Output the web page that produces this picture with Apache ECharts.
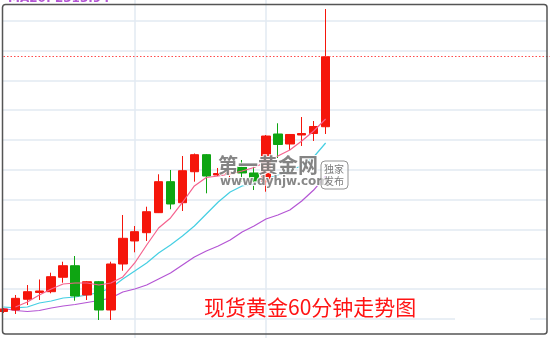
<!DOCTYPE html>
<html>
<head>
<meta charset="utf-8">
<script src="https://cdn.jsdelivr.net/npm/echarts@6/dist/echarts.min.js"></script>
<style>html,body{margin:0;padding:0;background:#fff;}#c{width:550px;height:338px;}</style>
</head>
<body>
<div id="c"></div>
<script>
// hourly bars (60-minute candles)
var categories = ['01:00','02:00','03:00','04:00','05:00','06:00','07:00','08:00','09:00','10:00',
  '11:00','12:00','13:00','14:00','15:00','16:00','17:00','18:00','19:00','20:00',
  '21:00','22:00','23:00','00:00','01:00','02:00','03:00','04:00'];
var opens  = [2291.21,2291.46,2293.26,2294.40,2294.53,2296.95,2298.89,2293.98,2296.21,2291.46,
  2299.18,2303.04,2304.43,2307.79,2312.99,2309.46,2314.66,2317.52,2314.11,2314.28,
  2315.45,2314.45,2312.99,2320.99,2319.31,2320.82,2321.07,2322.21];
var closes = [2291.63,2293.42,2294.53,2294.65,2297.05,2298.89,2293.81,2296.21,2291.46,2299.18,
  2303.49,2304.60,2307.95,2312.99,2309.25,2314.83,2317.52,2313.94,2314.36,2314.53,
  2314.45,2313.10,2320.65,2319.23,2320.91,2321.07,2322.25,2333.96];
var lows   = [2290.96,2290.79,2292.30,2293.14,2294.26,2296.04,2293.02,2293.14,2289.78,2289.78,
  2298.05,2301.14,2303.04,2307.73,2308.36,2308.07,2312.99,2311.04,2313.94,2313.61,
  2312.94,2311.59,2311.31,2316.96,2318.31,2318.98,2319.82,2320.99];
var highs  = [2291.80,2293.98,2295.65,2296.58,2297.72,2299.56,2300.52,2296.33,2296.33,2299.56,
  2307.40,2305.55,2308.79,2314.23,2314.95,2317.30,2317.72,2317.63,2315.29,2315.12,
  2316.63,2315.62,2320.82,2322.79,2320.99,2323.84,2323.17,2341.96];
var ma5  = ['-',2291.96,2292.80,2293.98,2294.98,2295.82,2295.99,2295.99,2295.65,2295.99,
  2297.00,2299.35,2302.37,2305.22,2306.90,2309.50,2312.27,2313.69,2313.94,2314.28,
  2314.78,2315.37,2316.29,2317.30,2318.31,2319.82,2321.49,2323.51];
var ma10 = [2291.96,2291.80,2291.96,2292.63,2292.97,2293.47,2293.64,2293.98,2294.40,2295.15,
  2296.66,2298.00,2299.35,2301.02,2302.37,2303.88,2305.55,2307.57,2309.58,2311.26,
  2312.27,2312.60,2313.44,2314.11,2314.95,2315.62,2317.13,2319.48];
var ma20 = [2291.71,2291.38,2291.21,2291.38,2291.80,2292.13,2292.38,2292.72,2293.05,2293.47,
  2294.48,2294.98,2295.65,2296.66,2297.67,2299.01,2300.35,2301.36,2302.20,2303.20,
  2304.55,2305.55,2306.73,2307.40,2308.24,2309.75,2311.59,2313.94];
var yTicks = {min: 2285, max: 2345, step: 5};
var dayMarks = [11, 22];
var titleText = '现货黄金60分钟走势图';

var kdata = opens.map(function (o, i) { return [o, closes[i], lows[i], highs[i]]; });

var chart = echarts.init(document.getElementById('c'), null, {renderer: 'canvas'});
var gTop = -9.1, gH = 357.6;
chart.setOption({
  animation: false,
  backgroundColor: '#fff',
  grid: [
    {left: 2, right: 3, top: gTop, height: gH, outerBoundsMode: 'none', containLabel: false},
    {left: 3.5, width: 11.93 * 46, top: gTop, height: gH, outerBoundsMode: 'none', containLabel: false}
  ],
  xAxis: [
    {gridIndex: 0, type: 'value', min: 0, max: 1, show: false},
    {gridIndex: 1, type: 'category', data: categories, boundaryGap: false, max: 46,
     axisLine: {show: false}, axisTick: {show: false}, axisLabel: {show: false},
     splitLine: {show: true, interval: function (i) { return dayMarks.indexOf(i) >= 0; },
                 lineStyle: {color: '#e2eaf2', width: 1.5}}}
  ],
  yAxis: [
    {gridIndex: 0, type: 'value', min: yTicks.min, max: yTicks.max, interval: yTicks.step,
     axisLine: {show: false}, axisTick: {show: false}, axisLabel: {show: false},
     splitLine: {show: true, lineStyle: {color: '#e2eaf2', width: 1.5}}},
    {gridIndex: 1, type: 'value', min: yTicks.min, max: yTicks.max, show: false, splitLine: {show: false}}
  ],
  series: [
    {type: 'line', xAxisIndex: 1, yAxisIndex: 1, data: ma20, showSymbol: false, clip: false,
     lineStyle: {color: '#b455d4', width: 1.2}, z: 3},
    {type: 'line', xAxisIndex: 1, yAxisIndex: 1, data: ma10, showSymbol: false, clip: false,
     lineStyle: {color: '#45cfe3', width: 1.2}, z: 3},
    {type: 'candlestick', xAxisIndex: 1, yAxisIndex: 1, data: kdata, barWidth: 9, clip: false,
     itemStyle: {color: '#f5160b', color0: '#0ea512', borderColor: '#f5160b', borderColor0: '#0ea512', borderWidth: 1},
     markLine: {silent: true, symbol: 'none', label: {show: false},
       lineStyle: {color: '#ff4a4a', type: [1.5, 2], width: 1.2},
       data: [{yAxis: closes[closes.length - 1]}]}, z: 4},
    {type: 'line', xAxisIndex: 1, yAxisIndex: 1, data: ma5, showSymbol: false, clip: false,
     lineStyle: {color: '#f5628e', width: 1.2}, z: 5}
  ],
  graphic: [
    {type: 'text', x: 8, y: -7, z: 20,
     style: {text: 'MA20: ' + ma20[ma20.length - 1].toFixed(2), fill: '#b455d4', font: 'bold 12px "DejaVu Sans", sans-serif'}},
    {type: 'rect', z: 20, shape: {x: 455, y: 316, width: 75, height: 5}, style: {fill: '#fff'}},
    {type: 'text', x: 218, y: 155, z: 30,
     style: {text: '第一黄金网', fill: 'rgba(115,115,115,0.88)', stroke: 'rgba(255,255,255,0.9)', lineWidth: 2,
             font: 'bold 20px "Noto Sans CJK SC", sans-serif'}},
    {type: 'text', x: 220, y: 176, z: 30,
     style: {text: 'www.dyhjw.com', fill: 'rgba(115,115,115,0.85)', stroke: 'rgba(255,255,255,0.9)', lineWidth: 2,
             font: 'bold 12px "DejaVu Sans", sans-serif'}},
    {type: 'rect', z: 30, shape: {x: 321, y: 161, width: 27, height: 28, r: 4},
     style: {fill: 'rgba(255,255,255,0.6)', stroke: 'rgba(120,120,120,0.8)', lineWidth: 1}},
    {type: 'text', x: 324, y: 163, z: 31,
     style: {text: '独家\n发布', fill: 'rgba(110,110,110,0.9)', font: '10px "Noto Sans CJK SC", sans-serif', lineHeight: 12}},
    {type: 'text', x: 204, y: 297, z: 30,
     style: {text: titleText, fill: '#ff1414', font: '21px "Noto Sans CJK SC", sans-serif'}},
    {type: 'rect', z: 40, shape: {x: 2.5, y: 4.5, width: 544.5, height: 329.5, r: 3},
     style: {fill: 'none', stroke: '#555', lineWidth: 1.5}}
  ]
});
</script>
</body>
</html>
